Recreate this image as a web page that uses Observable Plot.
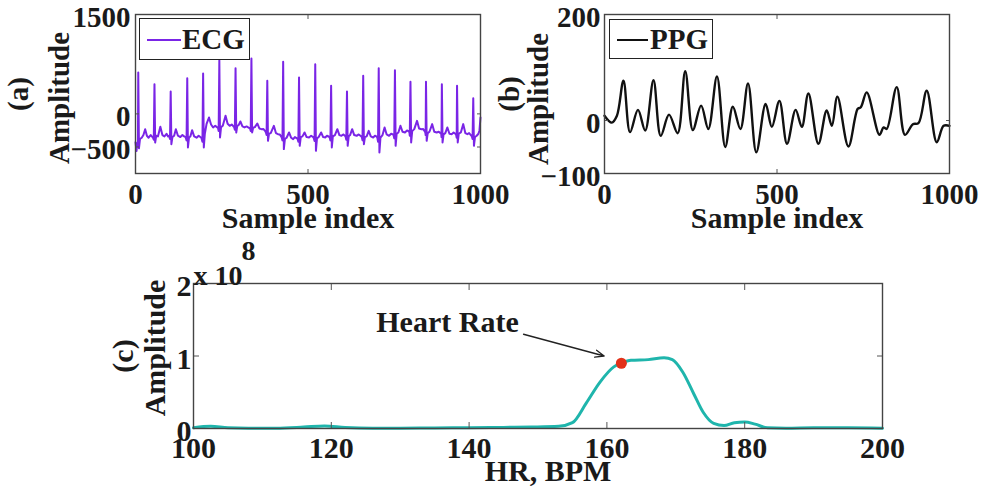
<!DOCTYPE html>
<html><head><meta charset="utf-8">
<script src="https://cdn.jsdelivr.net/npm/d3@7"></script>
<script src="https://cdn.jsdelivr.net/npm/@observablehq/plot@0.6"></script>
<style>
html,body{margin:0;padding:0;background:#fff}
body{width:981px;height:488px;overflow:hidden;position:relative;font-family:"Liberation Serif","Times New Roman",serif;font-weight:bold;color:#1a1a1a}
.panel{position:absolute}
.legend{position:absolute;box-sizing:border-box;border:1.6px solid #222;background:#fff;font-size:29px;line-height:1}
.legend .sw{position:absolute;height:0}
.legend .lb{position:absolute;top:50%;transform:translateY(-50%)}
</style></head>
<body>
<div id="a" class="panel" style="left:0;top:0"></div>
<div id="b" class="panel" style="left:490px;top:0"></div>
<div id="c" class="panel" style="left:0;top:240px"></div>
<div class="legend" style="left:139px;top:18px;width:111px;height:42px">
  <div class="sw" style="left:7px;width:34px;top:20px;border-top:2px solid #7a25e6"></div>
  <div class="lb" style="left:42px">ECG</div>
</div>
<div class="legend" style="left:609px;top:19px;width:104px;height:40px">
  <div class="sw" style="left:7px;width:31px;top:19px;border-top:2px solid #111"></div>
  <div class="lb" style="left:40px">PPG</div>
</div>
<script>
// ---------- data ----------
// (a) ECG trace: [sample index, amplitude]
const ecgSamples = [
 [0,-430],[3,-560],[5,-440],[7,-470],[8,625],[10,-520],[13,-380],[18,-360],[23,-320],[28,-231],[33,-330],[38,-360],[44,-320],[47,-340],[50,-350],[53,-390],
 [55,448],[57,-432],[60,-330],[65,-340],[72,-195],[78,-320],[84,-340],[90,-300],[94,-340],[97,-330],[100,-380],
 [102,338],[104,-457],[107,-350],[112,-330],[117,-231],[123,-330],[130,-350],[136,-320],[141,-340],[145,-350],[148,-400],
 [150,539],[152,-507],[155,-360],[159,-340],[164,-246],[170,-340],[177,-360],[183,-330],[188,-350],[191,-360],[194,-420],
 [196,609],[198,-507],[201,-300],[206,-150],[213,-55],[219,-160],[225,-205],[231,-180],[236,-200],[239,-210],[241,-260],
 [243,811],[245,-356],[248,-200],[253,-180],[261,-29],[267,-150],[273,-180],[279,-160],[284,-190],[286,-200],[288,-240],
 [290,690],[292,-281],[295,-180],[299,-170],[304,-115],[310,-190],[316,-205],[322,-190],[329,-210],[332,-220],[334,-260],
 [336,836],[338,-281],[341,-210],[346,-200],[353,-145],[359,-220],[365,-231],[371,-230],[376,-260],[378,-280],[380,-320],
 [382,499],[384,-407],[387,-300],[392,-290],[401,-180],[407,-290],[413,-306],[418,-310],[422,-340],[424,-360],[426,-400],
 [428,785],[430,-532],[433,-380],[438,-360],[445,-281],[451,-360],[457,-381],[462,-350],[468,-370],[470,-380],[472,-420],
 [474,549],[476,-482],[479,-350],[484,-340],[490,-281],[496,-350],[503,-356],[509,-330],[515,-350],[517,-370],[519,-410],
 [521,750],[523,-558],[526,-370],[531,-350],[538,-281],[544,-350],[550,-356],[555,-330],[561,-345],[563,-360],[565,-400],
 [567,423],[569,-507],[572,-340],[578,-320],[585,-231],[591,-320],[597,-331],[602,-310],[607,-330],[609,-345],[611,-390],
 [613,338],[615,-482],[618,-340],[622,-320],[628,-231],[634,-320],[641,-331],[647,-310],[653,-335],[656,-350],[658,-400],
 [660,574],[662,-457],[665,-350],[670,-340],[676,-256],[682,-340],[689,-356],[694,-330],[699,-345],[701,-360],[703,-420],
 [705,690],[707,-583],[710,-360],[716,-320],[722,-205],[728,-310],[735,-331],[741,-300],[746,-310],[748,-320],[750,-370],
 [752,660],[754,-482],[757,-300],[762,-280],[768,-180],[774,-270],[781,-281],[787,-250],[792,-265],[794,-280],[795,-330],
 [797,484],[799,-432],[802,-260],[808,-230],[816,-105],[822,-220],[829,-231],[834,-230],[838,-260],[840,-280],[841,-320],
 [842,484],[844,-407],[847,-290],[852,-270],[860,-155],[866,-270],[873,-281],[879,-270],[884,-290],[886,-300],[887,-350],
 [888,448],[890,-432],[893,-310],[898,-290],[904,-205],[910,-300],[917,-306],[922,-280],[927,-300],[929,-310],[931,-360],
 [932,423],[934,-432],[937,-300],[943,-280],[950,-155],[956,-290],[962,-306],[967,-290],[972,-320],[975,-340],[977,-380],
 [979,237],[981,-482],[984,-350],[989,-330],[994,-300],[997,-250],[1000,-55]
];
// (b) PPG trace
const ppgIdx = [0,21,36,55,74,97,118,142,163,187,212,234,256,280,301,326,350,372,394,416,440,467,485,507,529,554,572,591,620,644,659,675,707,734,743,760,797,809,818,847,871,894,910,934,963,983,1000];
const ppgVal = [9,-4,9,75,-22,20,-19,76,-29,11,-24,93,-18,28,-16,83,-50,26,-16,70,-60,31,-12,37,-44,20,-12,51,-44,19,-10,45,-49,22,25,53,-27,-13,-16,63,-27,-7,-5,56,-41,-10,-10];
// (c) spectrum (amplitude in units of 1e8)
const hrBpm = [100,102.5,105,108,112,116,119,122,126,130,135,140,145,149,153,155,157,159,161,162.1,163.5,166,168.3,169.5,171,172.6,174,175.5,177,178.5,180,181.5,183.3,186,190,195,200];
const hrAmp = [0.01,0.03,0.01,0.005,0.005,0.02,0.035,0.015,0.005,0.005,0.008,0.01,0.015,0.02,0.03,0.08,0.35,0.64,0.85,0.90,0.94,0.95,0.975,0.95,0.78,0.48,0.22,0.07,0.04,0.08,0.09,0.06,0.01,0.005,0.01,0.01,0.005];
const peakHR = [162.1], peakAmp = [0.90];
const annoText = ["Heart Rate"], annoHR = [147.2], annoAmp = [1.46];
const arrowFromHR = [147.9], arrowFromAmp = [1.30], arrowToHR = [159.6], arrowToAmp = [1.0];
// ticks
const aXTicks = [0,500,1000], aYTicks = [-500,0,1500];
const bXTicks = [0,500,1000], bYTicks = [-100,0,200];
const cXTicks = [100,120,140,160,180,200], cYTicks = [0,1,2];

// ---------- drawing ----------
const FONT = '"Liberation Serif", "Times New Roman", serif';
const INK = "#1a1a1a";
const style = {fontFamily: FONT, fontWeight: "bold", fontSize: "29px", color: INK, background: "transparent", overflow: "visible"};
const fmt = d => d < 0 ? "\u2212" + String(-d) : String(d);

const ecg = ecgSamples.map(([x, y]) => ({x, y}));
const ppg = ppgIdx.map((x, i) => ({x, y: ppgVal[i]}));
const spec = hrBpm.map((x, i) => ({x, y: hrAmp[i]}));

function inTicksX(ticks, len) {
  return [
    Plot.axisX(ticks, {anchor: "bottom", tickSize: -len, tickFormat: () => "", label: null, stroke: "#555"}),
    Plot.axisX(ticks, {anchor: "top", tickSize: -len, tickFormat: () => "", label: null, stroke: "#555"})
  ];
}
function inTicksY(ticks, len) {
  return [
    Plot.axisY(ticks, {anchor: "left", tickSize: -len, tickFormat: () => "", label: null, stroke: "#555"}),
    Plot.axisY(ticks, {anchor: "right", tickSize: -len, tickFormat: () => "", label: null, stroke: "#555"})
  ];
}
function yLabel(t, dx, dy, size) {
  return Plot.text([t], {frameAnchor: "left", rotate: -90, textAnchor: "middle", lineAnchor: "middle", dx, dy, fontSize: size, fill: INK});
}
function xLabel(t, dx, dy, size) {
  return Plot.text([t], {frameAnchor: "bottom", textAnchor: "middle", lineAnchor: "middle", dx, dy, fontSize: size, fill: INK});
}

const plotA = Plot.plot({
  width: 490, height: 240, marginLeft: 135, marginRight: 10, marginTop: 14, marginBottom: 67,
  style,
  x: {domain: [0, 1000]}, y: {domain: [-900, 1500]},
  marks: [
    Plot.line(ecg, {x: "x", y: "y", stroke: "#7a25e6", strokeWidth: 2}),
    ...inTicksX([500], 4), ...inTicksY([-500, 0], 4),
    Plot.frame({stroke: "#444", strokeWidth: 1.4}),
    Plot.axisX(aXTicks, {anchor: "bottom", tickSize: 0, tickPadding: 10, fontSize: 29, label: null, fill: INK, tickFormat: fmt}),
    Plot.axisY(aYTicks, {anchor: "left", tickSize: 0, tickPadding: 5, dy: 3, fontSize: 29, label: null, fill: INK, tickFormat: fmt}),
    xLabel("Sample index", 0, 45, 30),
    yLabel("Amplitude", -76, 4, 29),
    yLabel("(a)", -117, 0, 29)
  ]
});
document.getElementById("a").append(plotA);

const plotB = Plot.plot({
  width: 491, height: 240, marginLeft: 114, marginRight: 32, marginTop: 14, marginBottom: 67,
  style,
  x: {domain: [0, 1000]}, y: {domain: [-100, 200]},
  marks: [
    Plot.line(ppg, {x: "x", y: "y", stroke: "#111", strokeWidth: 2.4, curve: "catmull-rom"}),
    ...inTicksX([500], 4), ...inTicksY([0], 4),
    Plot.frame({stroke: "#444", strokeWidth: 1.4}),
    Plot.axisX(bXTicks, {anchor: "bottom", tickSize: 0, tickPadding: 10, fontSize: 29, label: null, fill: INK, tickFormat: fmt}),
    Plot.axisY(bYTicks, {anchor: "left", tickSize: 0, tickPadding: 4, dy: 3, fontSize: 29, label: null, fill: INK, tickFormat: fmt}),
    xLabel("Sample index", 0, 45, 30),
    yLabel("Amplitude", -66, 5, 29),
    yLabel("(b)", -95, 0, 29)
  ]
});
document.getElementById("b").append(plotB);

const plotC = Plot.plot({
  width: 981, height: 248, marginLeft: 193, marginRight: 99, marginTop: 43, marginBottom: 60,
  style,
  x: {domain: [100, 200]}, y: {domain: [0, 2]},
  marks: [
    Plot.line(spec, {x: "x", y: "y", stroke: "#1fb5ac", strokeWidth: 3, curve: "monotone-x"}),
    ...inTicksX([120, 140, 160, 180], 6), ...inTicksY([1], 6),
    Plot.frame({stroke: "#444", strokeWidth: 1.4}),
    Plot.arrow({length: 1}, {x1: () => arrowFromHR[0], y1: () => arrowFromAmp[0], x2: () => arrowToHR[0], y2: () => arrowToAmp[0], stroke: "#222", strokeWidth: 1.3, headLength: 11, headAngle: 45}),
    Plot.dot(peakHR.map((x, i) => ({x, y: peakAmp[i]})), {x: "x", y: "y", r: 5.5, fill: "#e2321a", stroke: "none"}),
    Plot.text(annoText.map((t, i) => ({t, x: annoHR[i], y: annoAmp[i]})), {x: "x", y: "y", text: "t", textAnchor: "end", fontSize: 30, fill: INK}),
    Plot.axisX(cXTicks, {anchor: "bottom", tickSize: 0, tickPadding: 8, fontSize: 30, label: null, fill: INK, tickFormat: fmt}),
    Plot.axisY(cYTicks, {anchor: "left", tickSize: 0, tickPadding: 2, dy: 3, fontSize: 30, label: null, fill: INK, tickFormat: fmt}),
    Plot.text(["x 10"], {frameAnchor: "top-left", textAnchor: "start", lineAnchor: "middle", dx: 0, dy: -7, fontSize: 28, fill: INK}),
    Plot.text(["8"], {frameAnchor: "top-left", textAnchor: "middle", lineAnchor: "middle", dx: 55, dy: -32, fontSize: 28, fill: INK}),
    xLabel("HR, BPM", 10, 43, 30),
    yLabel("Amplitude", -38, -8, 30),
    yLabel("(c)", -70, 0, 30)
  ]
});
document.getElementById("c").append(plotC);
</script>
</body></html>
